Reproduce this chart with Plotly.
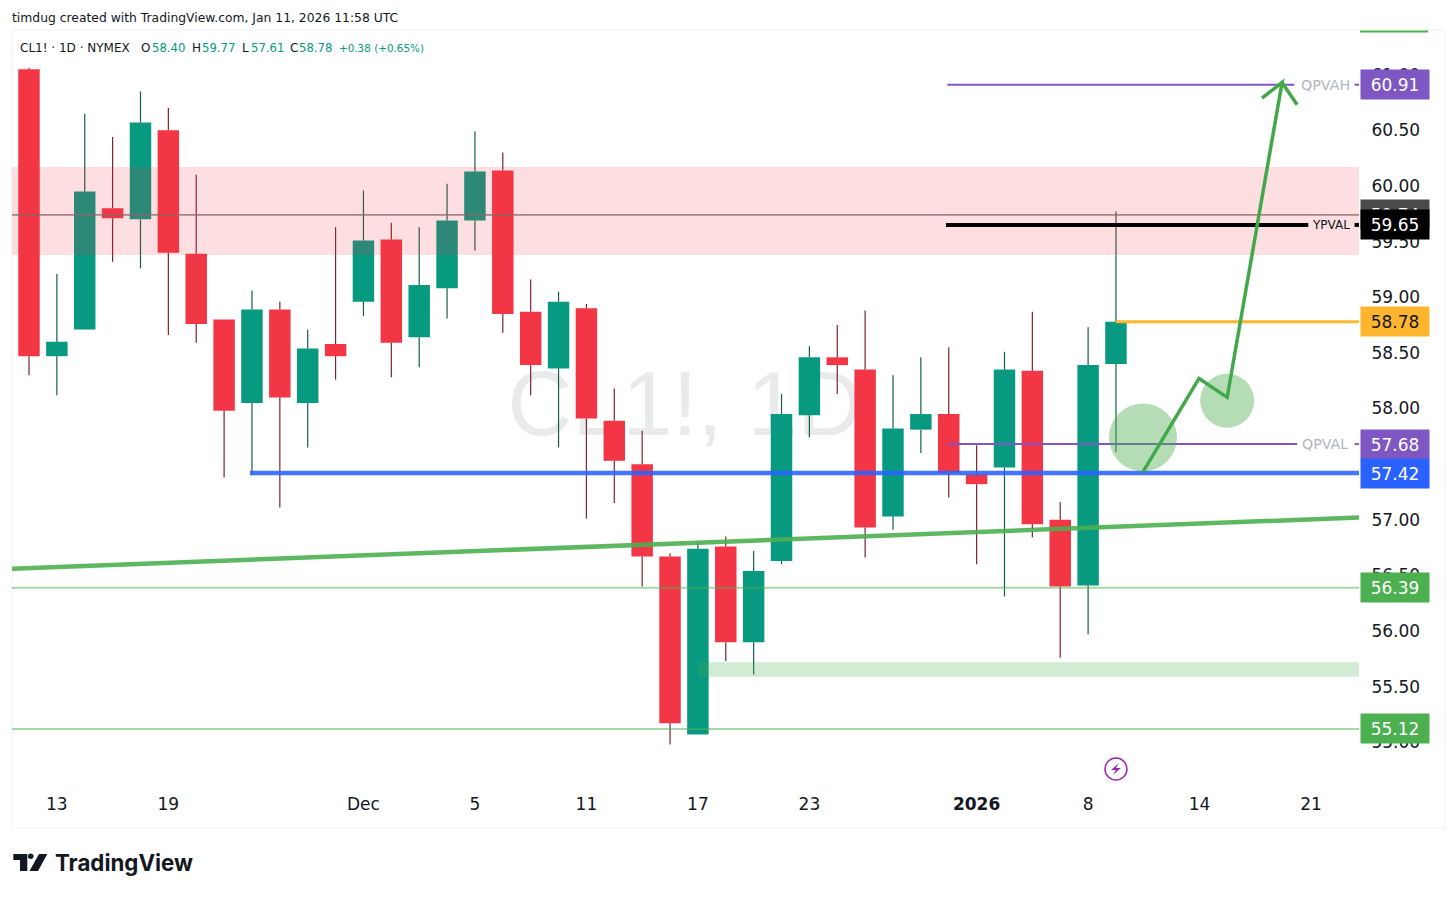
import plotly.graph_objects as go

# ---- candles ----
bar_dates = ["Nov 12", "Nov 13", "Nov 14", "Nov 17", "Nov 18", "Nov 19", "Nov 20", "Nov 21", "Nov 24", "Nov 25",
             "Nov 26", "Nov 28", "Dec 1", "Dec 2", "Dec 3", "Dec 4", "Dec 5", "Dec 8", "Dec 9", "Dec 10",
             "Dec 11", "Dec 12", "Dec 15", "Dec 16", "Dec 17", "Dec 18", "Dec 19", "Dec 22", "Dec 23", "Dec 24",
             "Dec 26", "Dec 29", "Dec 30", "Dec 31", "Jan 2", "Jan 5", "Jan 6", "Jan 7", "Jan 8", "Jan 9"]
opens = [61.05, 58.47, 58.71, 59.80, 59.70, 60.50, 59.39, 58.80, 58.05, 58.89,
         58.05, 58.58, 58.96, 59.52, 58.64, 59.08, 59.69, 60.14, 58.87, 58.36,
         58.90, 57.89, 57.50, 56.67, 55.07, 56.76, 55.90, 56.63, 57.94, 58.46,
         58.35, 57.03, 57.81, 57.95, 57.41, 57.47, 58.34, 57.00, 56.41, 58.40]
highs = [61.06, 59.21, 60.65, 60.44, 60.85, 60.70, 60.10, 58.80, 59.06, 58.96,
         58.71, 59.63, 59.96, 59.67, 59.63, 60.02, 60.49, 60.30, 59.16, 59.05,
         58.94, 58.18, 57.80, 56.70, 56.80, 56.85, 56.72, 58.13, 58.56, 58.75,
         58.88, 58.30, 58.46, 58.55, 57.67, 58.51, 58.87, 57.16, 58.73, 59.77]
lows = [58.30, 58.12, 58.71, 59.32, 59.26, 58.66, 58.59, 57.38, 57.40, 57.11,
        57.65, 58.26, 58.83, 58.28, 58.37, 58.81, 59.42, 58.68, 58.12, 57.65,
        57.01, 57.15, 56.40, 54.98, 55.07, 55.73, 55.61, 56.60, 57.74, 58.13,
        56.66, 56.91, 57.60, 57.20, 56.60, 56.31, 56.84, 55.76, 55.97, 57.61]
closes = [58.47, 58.60, 59.95, 59.71, 60.57, 59.40, 58.76, 57.98, 58.89, 58.10,
          58.54, 58.47, 59.51, 58.59, 59.11, 59.69, 60.13, 58.85, 58.39, 58.96,
          57.91, 57.53, 56.67, 55.17, 56.74, 55.90, 56.54, 57.95, 58.46, 58.39,
          56.93, 57.82, 57.95, 57.42, 57.32, 58.35, 56.96, 56.40, 58.39, 58.78]

# ---- axes ----
x_range = [-0.61, 47.72]
y_range = [54.634, 61.402]
x_tick_pos = [1, 5, 12, 16, 20, 24, 28, 34, 38, 42, 46]
x_tick_text = ["13", "19", "Dec", "5", "11", "17", "23", "<b>2026</b>", "8", "14", "21"]
y_ticks = [55.0, 55.5, 56.0, 56.5, 57.0, 57.5, 58.0, 58.5, 59.0, 59.5, 60.0, 60.5, 61.0]

# ---- drawings ----
trend_x = [-0.61, 47.72]
trend_y = [56.56, 57.02]
blue_x = [7.93, 47.72]
orange_x = [39, 47.72]
hline_full_x = [-0.61, 47.72]
qpvah_x = [32.95, 45.4, None, 47.56, 47.72]
qpval_x = [32.95, 45.5, None, 47.56, 47.72]
ypval_x = [32.9, 45.9]
ypval_stub_x = [47.56, 47.72]
arrow_x = [39.97, 41.98, 42.99, 44.96, 44.24, 44.96, 45.5]
arrow_y = [57.43, 58.27, 58.10, 60.93, 60.79, 60.93, 60.73]
resist_zone = [59.38, 60.17]
support_zone = [55.59, 55.72]
support_zone_x = [24, 47.72]
circle_x = [39.97, 42.99]
circle_y = [57.74, 58.07]

# ---- price scale labels ----
label_values = [60.91, 59.74, 59.65, 58.78, 57.68, 57.42, 56.39, 55.12]
label_bg = ["#7e57c2", "#4a4a4a", "#000000", "#ffb52e", "#7e57c2", "#2962ff", "#4caf50", "#4caf50"]
label_fg = ["white", "white", "white", "#131722", "white", "white", "white", "white"]

# ---- symbol line ----
legend_text = ["CL1! · 1D · NYMEX", "O", "58.40", "H", "59.77", "L", "57.61", "C", "58.78", "+0.38 (+0.65%)"]

FONT = "DejaVu Sans"
GREEN = "#089981"
RED = "#f23645"
INK = "#131722"
W, H = 1456, 897
M_L, M_R, M_T, M_B = 12, 97, 30, 114
legend_left = [18, 139, 150, 190, 200, 240, 249, 288, 297, 337]
legend_color = [INK, INK, GREEN, INK, GREEN, INK, GREEN, INK, GREEN, GREEN]
legend_size = [12, 12, 11.7, 12, 11.7, 12, 11.7, 12, 11.7, 10.4]
circle_r = [34, 27]


def px_x(p):
    return (p - M_L) / (W - M_L - M_R)


def px_y(p):
    return (H - M_B - p) / (H - M_T - M_B)


x = list(range(len(bar_dates)))
body_tops = [max(o, c) for o, c in zip(opens, closes)]
body_bots = [min(o, c) for o, c in zip(opens, closes)]
is_up = [c >= o for o, c in zip(opens, closes)]

fig = go.Figure()

# bodies
fig.add_trace(go.Bar(x=x, y=[t - b for t, b in zip(body_tops, body_bots)], base=body_bots, width=0.77,
                     marker=dict(color=[GREEN if u else RED for u in is_up], line=dict(width=0)),
                     hoverinfo="skip"))


# wicks stop at the body so their darker colour does not run through it
def add_wicks(up, color):
    wx, wy = [], []
    for i in x:
        if is_up[i] == up:
            wx += [i, i, None, i, i, None]
            wy += [highs[i], body_tops[i], None, body_bots[i], lows[i], None]
    fig.add_trace(go.Scatter(x=wx, y=wy, mode="lines", hoverinfo="skip", line=dict(color=color, width=1.2)))


add_wicks(True, "#175f45")
add_wicks(False, "#7c2431")


def add_line(xs, ys, color, width):
    fig.add_trace(go.Scatter(x=xs, y=ys, mode="lines", hoverinfo="skip",
                             line=dict(color=color, width=width), connectgaps=False))


add_line(trend_x, trend_y, "rgba(76,175,80,0.9)", 4.5)
add_line(hline_full_x, [56.39, 56.39], "rgba(76,175,80,0.5)", 2)
add_line(hline_full_x, [55.12, 55.12], "rgba(76,175,80,0.5)", 2)
add_line(blue_x, [57.42, 57.42], "rgba(41,98,255,0.88)", 4.5)
add_line(orange_x, [58.78, 58.78], "#ffb52e", 3)
add_line(hline_full_x, [59.74, 59.74], "rgba(120,110,110,0.75)", 1.6)
add_line(qpvah_x, [60.91] * 5, "#7e57c2", 2)
add_line(qpval_x, [57.68] * 5, "#7e57c2", 2)

arrow_path = "M " + " L ".join(f"{a} {b}" for a, b in zip(arrow_x, arrow_y))

shapes = [
    # chart frame
    dict(type="rect", xref="paper", yref="paper", x0=0, x1=px_x(1445), y0=px_y(828), y1=1,
         line=dict(color="#f0f1f3", width=1), fillcolor="rgba(0,0,0,0)", layer="below"),
    # watermark
    dict(type="rect", xref="paper", yref="paper", x0=px_x(460), x1=px_x(910), y0=px_y(450), y1=px_y(340),
         line=dict(width=0), fillcolor="rgba(0,0,0,0)", layer="below",
         label=dict(text="CL1!, 1D", textposition="middle center",
                    font=dict(family="Liberation Sans", size=90, color="#e9eaec"))),
    # zones
    dict(type="rect", xref="paper", yref="y", x0=0, x1=1, y0=resist_zone[0], y1=resist_zone[1],
         line=dict(width=0), fillcolor="rgba(242,54,69,0.16)", layer="above"),
    dict(type="rect", xref="x", yref="y", x0=support_zone_x[0], x1=support_zone_x[1],
         y0=support_zone[0], y1=support_zone[1],
         line=dict(width=0), fillcolor="rgba(76,175,80,0.25)", layer="above"),
    # piece of a price label cut off at the top of the scale
    dict(type="line", xref="paper", yref="paper", x0=px_x(1360), x1=px_x(1428), y0=px_y(31.5), y1=px_y(31.5),
         line=dict(color="#4caf50", width=2)),
    # marker under the last bar
    dict(type="circle", xref="x", yref="y", xsizemode="pixel", ysizemode="pixel",
         xanchor=39, yanchor=54.76, x0=-11, x1=11, y0=-11, y1=11,
         line=dict(color="#9c27b0", width=1.5), fillcolor="white"),
    dict(type="path", xref="x", yref="y", xsizemode="pixel", ysizemode="pixel",
         xanchor=39, yanchor=54.76, path="M 3 6 L -5 -1 L 0 -1 L -3 -6 L 5 1 L 0 1 Z",
         line=dict(width=0), fillcolor="#9c27b0"),
    # logo
    dict(type="path", xref="paper", yref="paper",
         path=f"M {px_x(13.3)} {px_y(854)} L {px_x(27.3)} {px_y(854)} L {px_x(27.3)} {px_y(871)} "
              f"L {px_x(20)} {px_y(871)} L {px_x(20)} {px_y(860)} L {px_x(13.3)} {px_y(860)} Z",
         line=dict(width=0), fillcolor=INK),
    dict(type="circle", xref="paper", yref="paper", x0=px_x(28), x1=px_x(33.5), y0=px_y(859), y1=px_y(853.6),
         line=dict(width=0), fillcolor=INK),
    dict(type="path", xref="paper", yref="paper",
         path=f"M {px_x(39)} {px_y(854)} L {px_x(47.3)} {px_y(854)} L {px_x(38)} {px_y(871)} "
              f"L {px_x(29.5)} {px_y(871)} Z",
         line=dict(width=0), fillcolor=INK),
]
for cx, cy, r in zip(circle_x, circle_y, circle_r):
    shapes.append(dict(type="circle", xref="x", yref="y", xsizemode="pixel", ysizemode="pixel",
                       xanchor=cx, yanchor=cy, x0=-r, x1=r, y0=-r, y1=r,
                       line=dict(width=0), fillcolor="rgba(76,175,80,0.42)", layer="above"))
# these sit over the zone and the circles, so they go in as shapes after them
shapes.append(dict(type="line", xref="x", yref="y", x0=ypval_x[0], x1=ypval_x[1], y0=59.65, y1=59.65,
                   line=dict(color="#000000", width=4), layer="above"))
shapes.append(dict(type="line", xref="x", yref="y", x0=ypval_stub_x[0], x1=ypval_stub_x[1], y0=59.65, y1=59.65,
                   line=dict(color="#000000", width=4), layer="above"))
shapes.append(dict(type="path", xref="x", yref="y", path=arrow_path, fillcolor="rgba(0,0,0,0)",
                   line=dict(color="#43a84a", width=3.5), layer="above"))

annotations = [
    dict(text="timdug created with TradingView.com, Jan 11, 2026 11:58 UTC", xref="paper", yref="paper",
         x=px_x(10), y=px_y(17.5), xanchor="left", yanchor="middle", showarrow=False,
         font=dict(family=FONT, size=12.35, color=INK)),
    dict(text="QPVAH", xref="x", yref="y", x=46.5, y=60.91, showarrow=False,
         font=dict(family=FONT, size=14.3, color="#b2b5be")),
    dict(text="QPVAL", xref="x", yref="y", x=46.5, y=57.68, showarrow=False,
         font=dict(family=FONT, size=14.2, color="#b2b5be")),
    dict(text="YPVAL", xref="x", yref="y", x=46.72, y=59.65, showarrow=False,
         font=dict(family=FONT, size=12, color=INK)),
    dict(text="<b>TradingView</b>", xref="paper", yref="paper", x=px_x(53), y=px_y(863), xanchor="left",
         yanchor="middle", showarrow=False, font=dict(family="Inter", size=22.3, color=INK)),
]
for text, left, color, size in zip(legend_text, legend_left, legend_color, legend_size):
    annotations.append(dict(text=text, xref="paper", yref="paper", x=px_x(left), y=px_y(48), xanchor="left",
                            yanchor="middle", showarrow=False, font=dict(family=FONT, size=size, color=color)))
for value, bg, fg in zip(label_values, label_bg, label_fg):
    annotations.append(dict(text=f"{value:.2f}", xref="paper", yref="y", x=px_x(1360), y=value,
                            xanchor="left", yanchor="middle", showarrow=False, width=68, height=29,
                            bgcolor=bg, align="center", borderpad=0,
                            font=dict(family=FONT, size=17, color=fg)))

fig.update_layout(
    width=W, height=H,
    margin=dict(l=M_L, r=M_R, t=M_T, b=M_B),
    paper_bgcolor="white", plot_bgcolor="white",
    showlegend=False, shapes=shapes, annotations=annotations, barmode="overlay",
)
fig.update_xaxes(range=x_range, tickvals=x_tick_pos, ticktext=x_tick_text, showgrid=False, zeroline=False,
                 ticks="outside", ticklen=6, tickcolor="rgba(0,0,0,0)",
                 tickfont=dict(family=FONT, size=17, color=INK), showline=False)
fig.update_yaxes(range=y_range, side="right", tickvals=y_ticks, tickformat=".2f", showgrid=False, zeroline=False,
                 ticks="outside", ticklen=8, tickcolor="rgba(0,0,0,0)",
                 tickfont=dict(family=FONT, size=17, color=INK), showline=False)

fig.write_html("out.html", config={"displayModeBar": False}, post_script="document.body.style.margin='0';")
